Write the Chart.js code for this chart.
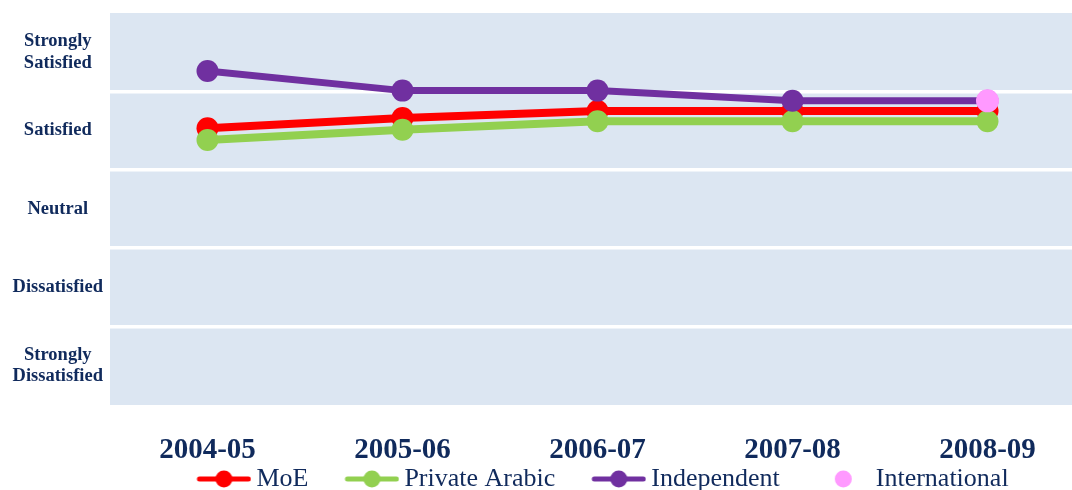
<!DOCTYPE html>
<html>
<head>
<meta charset="utf-8">
<script src="https://cdn.jsdelivr.net/npm/chart.js@4.4.0/dist/chart.umd.min.js"></script>
<style>
  html, body { margin: 0; padding: 0; overflow: hidden; background: #fff; }
  canvas { display: block; }
</style>
</head>
<body>
<canvas id="chart" width="1085" height="502"></canvas>
<script>
// categorías del eje X
const years = ['2004-05', '2005-06', '2006-07', '2007-08', '2008-09'];

// etiquetas del eje Y (de abajo hacia arriba, centradas en cada franja)
const levels = [['Strongly', 'Dissatisfied'], 'Dissatisfied', 'Neutral', 'Satisfied', ['Strongly', 'Satisfied']];

// valores (escala 0..5)
const moe = [3.53, 3.66, 3.75, 3.75, 3.75];
const privateArabic = [3.38, 3.51, 3.62, 3.62, 3.62];
const independent = [4.26, 4.01, 4.01, 3.88, 3.88];
const international = [null, null, null, null, 3.88];

const navy = '#102A5C';

// fondo azul claro del área del gráfico
const plotBg = {
  id: 'plotBg',
  beforeDraw(chart) {
    const { ctx, chartArea: a } = chart;
    ctx.save();
    ctx.fillStyle = '#DCE6F2';
    ctx.fillRect(a.left, a.top, a.right - a.left, a.bottom - a.top);
    ctx.restore();
  },
  afterLayout(chart) {
    // corrimiento de la leyenda para que quede como en el original
    chart.legend.left -= 12;
    chart.legend.right -= 12;
  }
};

// icono de leyenda: línea con círculo (con hueco transparente a la izquierda)
const GAP = 34;
function legendIcon(color, withLine) {
  const c = document.createElement('canvas');
  c.width = GAP + 63; c.height = 20;
  const g = c.getContext('2d');
  const x0 = GAP + 8;
  if (withLine) {
    g.strokeStyle = color;
    g.lineWidth = 5;
    g.lineCap = 'round';
    g.beginPath();
    g.moveTo(x0 + 3, 10); g.lineTo(x0 + 52, 10);
    g.stroke();
  }
  g.fillStyle = color;
  g.beginPath();
  g.arc(x0 + 27.5, 10, 8.5, 0, Math.PI * 2);
  g.fill();
  return c;
}

new Chart(document.getElementById('chart'), {
  type: 'line',
  data: {
    labels: years,
    datasets: [
      { label: 'MoE', data: moe, borderColor: '#FF0000', backgroundColor: '#FF0000', borderWidth: 8, pointRadius: 11, pointBorderWidth: 0, order: 4 },
      { label: 'Private Arabic', data: privateArabic, borderColor: '#92D050', backgroundColor: '#92D050', borderWidth: 8, pointRadius: 11, pointBorderWidth: 0, order: 3 },
      { label: 'Independent', data: independent, borderColor: '#7030A0', backgroundColor: '#7030A0', borderWidth: 7, pointRadius: 11, pointBorderWidth: 0, order: 2 },
      { label: 'International', data: international, borderColor: '#FF99FF', backgroundColor: '#FF99FF', showLine: false, pointRadius: 11.5, pointBorderWidth: 0, order: 1 }
    ]
  },
  options: {
    responsive: false,
    animation: false,
    layout: { autoPadding: false, padding: { top: 13, right: 0, left: 0, bottom: 0 } },
    elements: { line: { tension: 0 } },
    scales: {
      x: {
        offset: true,
        afterFit(scale) { scale.height = 59; },
        grid: { display: false, drawTicks: false },
        border: { display: false },
        ticks: {
          color: navy,
          padding: 28,
          font: { family: 'Liberation Serif', size: 29, weight: 'bold' }
        }
      },
      y: {
        min: 0,
        max: 5,
        afterBuildTicks(scale) {
          const t = [];
          for (let v = 0; v <= 5; v += 0.5) t.push({ value: v });
          scale.ticks = t;
        },
        afterFit(scale) {
          scale.width = 110;
          scale.paddingTop = 0;
          scale.paddingBottom = 0;
        },
        grid: {
          drawTicks: false,
          lineWidth: 3.5,
          color: c => (c.tick && c.tick.value % 1 === 0 && c.tick.value > 0 && c.tick.value < 5) ? '#FFFFFF' : 'rgba(0,0,0,0)'
        },
        border: { display: false },
        ticks: {
          color: navy,
          padding: 7,
          crossAlign: 'center',
          autoSkip: false,
          font: { family: 'Liberation Serif', size: 18.5, weight: 'bold', lineHeight: 1.15 },
          callback: v => (v % 1 === 0.5 ? levels[Math.floor(v)] : '')
        }
      }
    },
    plugins: {
      tooltip: { enabled: false },
      legend: {
        position: 'bottom',
        fullSize: false,
        labels: {
          color: navy,
          font: { family: 'Liberation Serif', size: 26 },
          usePointStyle: true,
          pointStyleWidth: GAP + 47,
          padding: 2,
          generateLabels(chart) {
            return chart.data.datasets.map((ds, i) => ({
              text: ds.label,
              fontColor: navy,
              pointStyle: legendIcon(ds.borderColor, ds.showLine !== false),
              hidden: false,
              datasetIndex: i,
              lineWidth: 0,
              strokeStyle: 'rgba(0,0,0,0)',
              fillStyle: ds.borderColor
            }));
          }
        }
      }
    }
  },
  plugins: [plotBg]
});
</script>
</body>
</html>
